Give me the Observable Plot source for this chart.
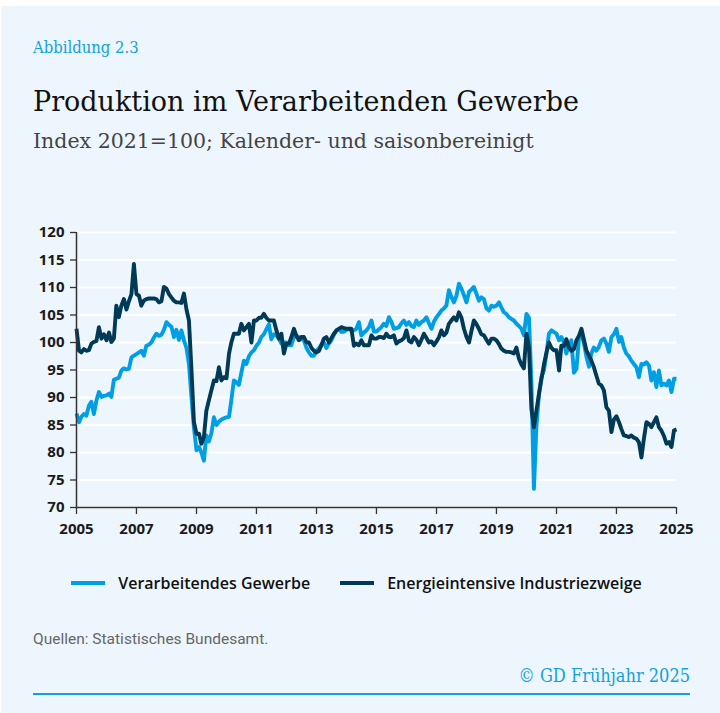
<!DOCTYPE html>
<html>
<head>
<meta charset="utf-8">
<script src="https://cdn.jsdelivr.net/npm/d3@7"></script>
<script src="https://cdn.jsdelivr.net/npm/@observablehq/plot@0.6"></script>
<style>
  html, body { margin: 0; padding: 0; background: #fff; }
  #card { position: absolute; left: 1px; top: 6px; width: 719px; height: 707px; background: #eef6fd; overflow: hidden; }
  .abs { position: absolute; white-space: nowrap; }
  #fig { left: 32px; top: 32px; font-family: "DejaVu Serif Condensed", "DejaVu Serif"; font-size: 16.5px; color: #12a0e0; line-height: 20px; }
  #title { left: 32px; top: 81px; font-family: "DejaVu Serif"; font-size: 27px; color: #111; line-height: 30px; }
  #subtitle { left: 32px; top: 123px; font-family: "DejaVu Serif"; font-size: 20.5px; color: #444; line-height: 24px; font-weight: 300; }
  #chart { left: -1px; top: 203px; }
  #legend { left: -4px; width: 719px; top: 566px; display: flex; justify-content: center; gap: 30px; font-family: "Open Sans"; font-weight: 600; font-size: 16px; color: #111; line-height: 22px; }
  #legend .item { display: flex; align-items: center; gap: 13px; }
  #legend .sw { width: 34px; height: 4px; }
  #source { left: 32px; top: 623px; font-family: "Roboto"; font-size: 15.5px; color: #666; line-height: 20px; }
  #copy { right: 30px; top: 659px; font-family: "DejaVu Serif Condensed", "DejaVu Serif"; font-size: 18px; color: #12a0e0; line-height: 22px; }
  #rule { left: 32px; top: 687px; width: 657px; height: 1.5px; background: #12a0e0; }
</style>
</head>
<body>
<div id="card">
  <div class="abs" id="fig">Abbildung 2.3</div>
  <div class="abs" id="title">Produktion im Verarbeitenden Gewerbe</div>
  <div class="abs" id="subtitle">Index 2021=100; Kalender- und saisonbereinigt</div>
  <div class="abs" id="chart"></div>
  <div class="abs" id="legend"></div>
  <div class="abs" id="source">Quellen: Statistisches Bundesamt.</div>
  <div class="abs" id="copy">© GD Frühjahr 2025</div>
  <div class="abs" id="rule"></div>
</div>
<script>
// Monthly series, starting January 2005
const startYear = 2005;
const seriesNames = ["Verarbeitendes Gewerbe", "Energieintensive Industriezweige"];
const seriesColors = ["#009fe3", "#003a57"];

const vg = [
  87.1, 85.5, 86.5, 87.0, 86.7, 88.5, 89.2, 87.0, 89.5, 91.0, 90.1, 90.3,
  90.4, 90.7, 90.1, 93.2, 93.4, 93.6, 94.9, 95.3, 95.1, 95.2, 97.3, 97.6,
  97.9, 98.2, 98.5, 97.6, 99.4, 99.6, 100.0, 100.9, 101.6, 101.2, 101.4, 102.3,
  103.7, 103.2, 102.9, 101.0, 102.3, 100.5, 102.2, 100.4, 99.0, 96.1, 90.0, 84.5,
  80.4, 81.0, 80.0, 78.5, 83.1, 82.0, 83.5, 86.4, 85.0, 85.6, 86.0, 86.2,
  86.4, 86.5, 89.5, 93.1, 92.8, 92.3, 94.5, 96.7, 96.1, 97.5, 98.2, 98.6,
  99.4, 100.0, 101.0, 101.5, 102.4, 103.3, 100.6, 101.5, 101.3, 100.7, 99.8, 100.0,
  100.0, 99.5, 99.5, 101.0, 101.2, 101.0, 100.6, 100.4, 99.0, 98.2, 97.6, 97.6,
  98.5, 99.0, 99.6, 100.0, 99.0, 99.8, 100.4, 101.4, 102.2, 102.5, 101.9, 102.0,
  102.3, 102.5, 102.2, 102.2, 102.5, 103.7, 101.3, 101.8, 102.2, 102.8, 104.0, 102.0,
  102.0, 102.4, 102.8, 103.4, 103.0, 104.6, 103.8, 102.5, 102.6, 102.8, 103.5, 104.0,
  103.2, 103.7, 103.0, 102.8, 104.0, 103.2, 103.7, 104.0, 104.6, 103.5, 102.5, 103.8,
  104.6, 105.2, 105.8, 106.2, 106.7, 109.5, 108.3, 107.3, 108.5, 110.7, 109.8, 108.6,
  107.3, 109.2, 109.6, 110.1, 108.9, 107.6, 108.2, 107.9, 106.2, 105.8, 106.7, 106.5,
  106.7, 107.3, 106.4, 105.5, 105.2, 104.6, 104.3, 104.0, 103.4, 103.0, 102.5, 101.3,
  105.2, 104.5, 93.0, 73.4, 84.6, 90.5, 93.7, 94.9, 98.0, 101.6, 102.2, 101.9,
  101.6, 100.4, 101.0, 100.0, 98.0, 99.5, 100.4, 94.5, 95.2, 100.7, 101.6, 99.8,
  97.4, 95.6, 98.0, 99.1, 98.5, 99.2, 100.4, 100.7, 99.8, 98.3, 101.0, 101.5,
  102.5, 100.1, 101.0, 99.1, 98.0, 97.5, 96.7, 96.1, 95.5, 93.7, 96.1, 96.0,
  96.4, 95.8, 93.1, 94.6, 91.9, 94.9, 92.2, 92.5, 92.2, 93.1, 91.0, 93.4,
  93.4
];

const ei = [
  102.5, 98.5, 98.2, 98.8, 98.5, 98.6, 99.8, 100.1, 100.3, 102.8, 100.7, 101.5,
  100.4, 101.8, 100.1, 100.7, 106.7, 104.6, 106.7, 107.9, 106.0, 107.5, 108.8, 114.3,
  108.8, 108.5, 106.7, 107.6, 107.9, 108.0, 108.0, 108.0, 107.9, 107.3, 107.5, 110.1,
  109.8, 108.8, 108.2, 107.6, 107.3, 107.3, 107.2, 108.9, 106.0, 104.0, 95.0, 85.5,
  83.4, 83.4, 81.6, 82.8, 87.6, 89.5, 91.3, 93.1, 93.0, 95.5, 93.1, 93.7,
  93.5, 98.0, 100.0, 101.6, 101.6, 101.6, 103.4, 102.2, 102.8, 103.4, 100.0, 104.0,
  104.0, 104.5, 104.5, 105.2, 104.5, 104.0, 104.0, 104.0, 102.2, 100.7, 101.6, 98.0,
  99.8, 99.8, 101.0, 102.5, 101.2, 100.4, 101.0, 101.0, 100.0, 100.0, 99.0, 98.5,
  98.2, 98.5, 99.5, 100.7, 101.0, 100.0, 100.8, 101.6, 102.2, 102.5, 102.8, 102.6,
  102.5, 102.5, 102.5, 99.4, 99.8, 99.5, 100.4, 99.5, 99.5, 99.5, 101.3, 100.7,
  100.7, 101.0, 101.0, 100.8, 101.6, 101.0, 101.0, 101.3, 99.8, 100.2, 100.4, 100.8,
  102.2, 100.3, 100.0, 101.0, 100.5, 99.5, 100.5, 101.6, 100.8, 100.0, 100.2, 99.5,
  100.2, 101.0, 102.2, 101.3, 101.8, 103.4, 104.0, 104.6, 104.0, 105.5, 104.5, 102.5,
  101.0, 100.0, 102.0, 104.0, 103.4, 102.5, 101.5, 101.3, 100.5, 99.8, 100.7, 100.7,
  100.4, 99.7, 98.9, 98.5, 98.3, 98.3, 98.2, 98.0, 99.1, 97.1, 96.0, 95.3,
  101.6, 99.1, 88.0, 84.6, 87.6, 90.6, 93.3, 96.0, 98.2, 100.0, 99.0, 98.6,
  98.6, 94.9, 99.4, 99.4, 100.6, 99.1, 98.5, 98.8, 100.4, 101.2, 102.5, 100.5,
  98.5, 97.6, 96.7, 95.5, 94.0, 92.5, 92.2, 91.3, 88.2, 87.6, 83.7, 86.0,
  86.6, 85.5, 84.3, 83.1, 83.0, 82.8, 83.1, 82.7, 82.5, 81.9, 79.1, 82.5,
  85.5, 85.2, 84.6, 85.5, 86.4, 84.6, 84.0, 83.0, 81.6, 81.9, 81.0, 84.0,
  84.2
];

const yTicks = [70, 75, 80, 85, 90, 95, 100, 105, 110, 115, 120];
const xTickYears = [2005, 2007, 2009, 2011, 2013, 2015, 2017, 2019, 2021, 2023, 2025];

const toRows = (vals, name) => vals.map((v, i) => ({date: new Date(Date.UTC(startYear, i, 1)), value: v, series: name}));
const rows = [...toRows(vg, seriesNames[0]), ...toRows(ei, seriesNames[1])];
const xTicks = xTickYears.map(y => new Date(Date.UTC(y, 0, 1)));

const chart = Plot.plot({
  width: 720,
  height: 335,
  marginLeft: 76,
  marginRight: 44,
  marginTop: 23,
  marginBottom: 37,
  style: {background: "transparent", fontFamily: "Open Sans", fontSize: "15px", fontWeight: 700, color: "#1a1a1a", overflow: "visible"},
  x: {type: "utc", domain: [xTicks[0], xTicks[xTicks.length - 1]], label: null},
  y: {domain: [70, 120], label: null},
  color: {domain: seriesNames, range: seriesColors},
  marks: [
    Plot.gridY(yTicks, {stroke: "#ffffff", strokeOpacity: 1, strokeWidth: 2}),
    Plot.line(rows, {x: "date", y: "value", stroke: "series", z: "series", strokeWidth: 3.9, strokeLinejoin: "round", strokeLinecap: "butt"}),
    Plot.ruleY([70], {stroke: "#333", strokeWidth: 1.5}),
    Plot.ruleX([xTicks[0]], {stroke: "#333", strokeWidth: 1.5}),
    Plot.axisY(yTicks, {tickSize: 6, tickPadding: 6, stroke: "#333", strokeWidth: 1.3, fill: "#1a1a1a"}),
    Plot.axisX(xTicks, {tickSize: 7, tickPadding: 9, tickFormat: d3.utcFormat("%Y"), stroke: "#333", strokeWidth: 1.3, fill: "#1a1a1a"})
  ]
});
document.getElementById("chart").appendChild(chart);

const legend = document.getElementById("legend");
seriesNames.forEach((n, i) => {
  const item = document.createElement("div");
  item.className = "item";
  const sw = document.createElement("div");
  sw.className = "sw";
  sw.style.background = seriesColors[i];
  const t = document.createElement("span");
  t.textContent = n;
  item.appendChild(sw);
  item.appendChild(t);
  legend.appendChild(item);
});
</script>
</body>
</html>
